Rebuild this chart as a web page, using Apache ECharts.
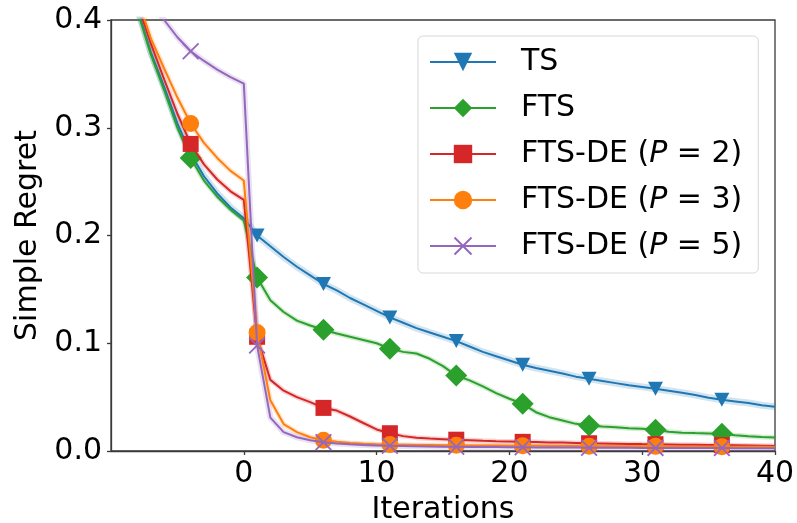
<!DOCTYPE html>
<html><head><meta charset="utf-8">
<script src="https://cdn.jsdelivr.net/npm/echarts@6/dist/echarts.min.js"></script>
<style>html,body{margin:0;padding:0;background:#fff}#c{width:797px;height:523px}</style>
</head><body><div id="c"></div>
<script>
// x values (iterations)
const iterations = [-9,-8,-7,-6,-5,-4,-3,-2,-1,0,
  1,2,3,4,5,6,7,8,9,10,
  11,12,13,14,15,16,17,18,19,20,
  21,22,23,24,25,26,27,28,29,30,
  31,32,33,34,35,36,37,38,39,40];

const tsRegret = [0.46,0.41,0.37,0.338,0.304,0.276,0.255,0.239,0.226,0.216,
  0.200,0.190,0.180,0.171,0.163,0.155,0.149,0.142,0.136,0.130,
  0.124,0.119,0.114,0.110,0.106,0.102,0.097,0.092,0.088,0.084,
  0.080,0.077,0.0745,0.072,0.069,0.067,0.065,0.063,0.061,0.0595,
  0.0577,0.056,0.054,0.052,0.0495,0.0475,0.046,0.0445,0.0425,0.041];

const ftsRegret = [0.46,0.408,0.368,0.335,0.300,0.272,0.251,0.236,0.224,0.214,
  0.161,0.140,0.129,0.121,0.1165,0.1125,0.109,0.106,0.103,0.100,
  0.095,0.092,0.0905,0.0856,0.0788,0.070,0.0655,0.060,0.0537,0.0485,
  0.0438,0.036,0.0314,0.0283,0.0252,0.0237,0.0227,0.0221,0.0212,0.0206,
  0.0197,0.0178,0.0170,0.0166,0.0163,0.0160,0.0147,0.0137,0.0130,0.0125];

const ftsDeP2Regret = [0.47,0.415,0.378,0.345,0.313,0.285,0.266,0.252,0.241,0.233,
  0.106,0.066,0.056,0.050,0.0453,0.040,0.0375,0.032,0.026,0.020,
  0.0165,0.0138,0.0124,0.0115,0.0110,0.0105,0.0100,0.0095,0.0091,0.0088,
  0.0085,0.0083,0.0080,0.0078,0.0075,0.0072,0.0070,0.0068,0.0066,0.0064,
  0.0063,0.0061,0.0059,0.0058,0.0056,0.0055,0.0053,0.0051,0.0049,0.0047];

const ftsDeP3Regret = [0.47,0.42,0.383,0.355,0.328,0.304,0.286,0.272,0.260,0.251,
  0.110,0.047,0.025,0.0175,0.0128,0.0100,0.0085,0.0075,0.0068,0.0063,
  0.0060,0.0058,0.0056,0.0055,0.0054,0.0053,0.0052,0.0051,0.0050,0.0049,
  0.0048,0.0048,0.0047,0.0046,0.0046,0.0045,0.0045,0.0044,0.0044,0.0043,
  0.0043,0.0042,0.0042,0.0041,0.0041,0.0040,0.0040,0.0039,0.0039,0.0038];

const ftsDeP5Regret = [0.465,0.44,0.418,0.400,0.384,0.371,0.362,0.354,0.347,0.341,
  0.098,0.031,0.0175,0.0128,0.0100,0.0082,0.0070,0.0062,0.0056,0.0052,
  0.0048,0.0046,0.0044,0.0042,0.0040,0.0039,0.0038,0.0037,0.0036,0.0035,
  0.0034,0.0033,0.0033,0.0032,0.0032,0.0031,0.0031,0.0030,0.0030,0.0029,
  0.0029,0.0028,0.0028,0.0027,0.0027,0.0027,0.0026,0.0026,0.0025,0.0025];

const seriesNames = ['TS','FTS','FTS-DE (P = 2)','FTS-DE (P = 3)','FTS-DE (P = 5)'];
const xTicks = [0,10,20,30,40];
const yTicks = [0,0.1,0.2,0.3,0.4];

const FONT = 'DejaVu Sans';
const FS = 30;
const crossPath = 'path://M0,1.5 L1.5,0 L10,8.5 L18.5,0 L20,1.5 L11.5,10 L20,18.5 L18.5,20 L10,11.5 L1.5,20 L0,18.5 L8.5,10 Z';

const defs = [
  {name: seriesNames[0], data: tsRegret, color: '#1f77b4', symbol: 'triangle', rotate: 180, size: [15,14], band: 7},
  {name: seriesNames[1], data: ftsRegret, color: '#2ca02c', symbol: 'diamond', rotate: 0, size: [22,22], band: 5},
  {name: seriesNames[2], data: ftsDeP2Regret, color: '#d62728', symbol: 'rect', rotate: 0, size: [16,16], band: 5},
  {name: seriesNames[3], data: ftsDeP3Regret, color: '#ff7f0e', symbol: 'circle', rotate: 0, size: [17,17], band: 5},
  {name: seriesNames[4], data: ftsDeP5Regret, color: '#9467bd', symbol: crossPath, rotate: 0, size: [17,17], band: 6}
];

const series = [];
defs.forEach((d, k) => {
  series.push({
    name: d.name + ' band', type: 'line', silent: true, z: 1,
    data: iterations.map((x, i) => [x, d.data[i]]),
    symbol: 'none', lineStyle: {color: d.color, width: d.band, opacity: 0.2},
    animation: false
  });
});
defs.forEach((d, k) => {
  series.push({
    name: d.name, type: 'line', z: 2 + k,
    data: iterations.map((x, i) => ({value: [x, d.data[i]], symbol: i % 5 === 0 ? d.symbol : 'none'})),
    symbol: d.symbol, symbolSize: d.size, symbolRotate: d.rotate, showAllSymbol: true,
    itemStyle: {color: d.color, opacity: 1},
    lineStyle: {color: d.color, width: 2},
    emphasis: {disabled: true},
    animation: false
  });
});

const chart = echarts.init(document.getElementById('c'), null, {renderer: 'canvas'});
chart.setOption({
  backgroundColor: '#fff',
  animation: false,
  grid: {left: 111, right: 22, top: 20, bottom: 72, containLabel: false, outerBoundsMode: 'none',
    show: true, borderColor: '#3a3a3a', borderWidth: 1.3, backgroundColor: 'transparent'},
  xAxis: {
    type: 'value', min: -10, max: 40,
    name: 'Iterations', nameLocation: 'middle', nameGap: 44,
    nameTextStyle: {fontFamily: FONT, fontSize: FS, color: '#000'},
    axisLine: {show: true, onZero: false, lineStyle: {color: '#3a3a3a', width: 1.3}},
    axisTick: {show: true, length: 4, lineStyle: {color: '#3a3a3a', width: 1.3}, customValues: xTicks},
    axisLabel: {fontFamily: FONT, fontSize: FS, color: '#000', margin: 8, customValues: xTicks},
    splitLine: {show: false}
  },
  yAxis: {
    type: 'value', min: 0, max: 0.4, interval: 0.1,
    name: 'Simple Regret', nameLocation: 'middle', nameGap: 64,
    nameTextStyle: {fontFamily: FONT, fontSize: FS, color: '#000'},
    axisLine: {show: true, onZero: false, lineStyle: {color: '#3a3a3a', width: 1.3}},
    axisTick: {show: true, length: 4, lineStyle: {color: '#3a3a3a', width: 1.3}, customValues: yTicks},
    axisLabel: {fontFamily: FONT, fontSize: FS, color: '#000', margin: 9, customValues: yTicks,
      formatter: v => v.toFixed(1)},
    splitLine: {show: false}
  },
  legend: {
    data: seriesNames,
    orient: 'vertical', left: 418, top: 36,
    padding: [11, 16, 12, 11],
    itemWidth: 66, itemHeight: 23, itemGap: 16,
    backgroundColor: 'rgba(255,255,255,0.85)',
    borderColor: '#d8d8d8', borderWidth: 1, borderRadius: 5,
    selectedMode: false,
    formatter: name => name.replace('P', '{i|P}'),
    textStyle: {fontFamily: FONT, fontSize: FS, color: '#000', lineHeight: 30, padding: [0, 0, 0, 20],
      rich: {i: {fontFamily: FONT, fontSize: FS, fontStyle: 'italic', color: '#000', lineHeight: 30}}}
  },
  series: series
});
</script>
</body></html>
